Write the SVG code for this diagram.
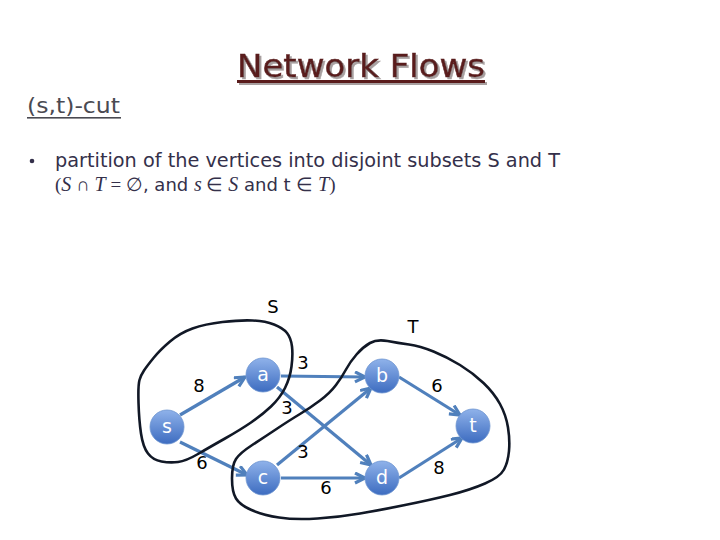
<svg xmlns="http://www.w3.org/2000/svg" width="720" height="540" viewBox="0 0 720 540">
<style>
.title{font-family:"DejaVu Sans",sans-serif;font-size:32px;fill:#5a1e1e;stroke:#5a1e1e;stroke-width:0.5}
.sub{font-family:"DejaVu Sans",sans-serif;font-size:22px;fill:#4a4a52}
.body{font-family:"DejaVu Sans",sans-serif;font-size:19px;fill:#34304a}
.body2{font-family:"DejaVu Sans",sans-serif;font-size:18px;fill:#34304a}
.math{font-family:"Liberation Serif",serif;font-style:italic;font-size:20px;fill:#34304a}
.mop{font-family:"Liberation Serif",serif;font-size:19px;fill:#34304a}
.lbl{font-family:"DejaVu Sans",sans-serif;font-size:18px;fill:#000;text-anchor:middle}
.nl{font-family:"DejaVu Sans",sans-serif;font-size:19px;fill:#fff;text-anchor:middle}
.edge{stroke:#5080bc;stroke-width:3.2;fill:none;marker-end:url(#arr)}
.node{fill:url(#ng);stroke:#6f95d0;stroke-width:0.8}
.cut{fill:none;stroke:#111826;stroke-width:2.6;stroke-linejoin:round}
</style>
<defs>
<linearGradient id="ng" x1="0" y1="0" x2="0" y2="1">
<stop offset="0" stop-color="#8fb2ea"/>
<stop offset="1" stop-color="#3d6cc0"/>
</linearGradient>
<filter id="shadow" x="-5%" y="-20%" width="115%" height="150%">
<feDropShadow dx="2" dy="2" stdDeviation="0.6" flood-color="#a8a0a0" flood-opacity="1"/>
</filter>
<marker id="arr" markerUnits="userSpaceOnUse" markerWidth="16" markerHeight="16" refX="11" refY="6" orient="auto">
<path d="M1,1 L11,6 L1,11" fill="none" stroke="#5080bc" stroke-width="3.2" stroke-linejoin="miter"/>
</marker>
</defs>
<rect width="720" height="540" fill="#fff"/>
<g id="title" filter="url(#shadow)">
<text class="title" x="237" y="77" textLength="248" lengthAdjust="spacingAndGlyphs">Network Flows</text>
<rect x="237" y="80" width="248" height="3" fill="#5a1e1e"/>
</g>
<g id="subtitle">
<text class="sub" x="27" y="113" textLength="93" lengthAdjust="spacingAndGlyphs">(s,t)-cut</text>
<rect x="27" y="117" width="94" height="1.6" fill="#4a4a52"/>
</g>
<g id="bullet">
<circle cx="32" cy="161" r="2.3" fill="#34304a"/>
<text class="body" x="55" y="167" textLength="505" lengthAdjust="spacingAndGlyphs">partition of the vertices into disjoint subsets S and T</text>
<text x="55" y="191"><tspan class="mop">(</tspan><tspan class="math">S</tspan><tspan class="mop"> ∩ </tspan><tspan class="math">T</tspan><tspan class="mop"> = ∅</tspan><tspan class="body2">, and </tspan><tspan class="math">s</tspan><tspan class="mop"> ∈ </tspan><tspan class="math">S</tspan><tspan class="body2"> and t </tspan><tspan class="mop">∈ </tspan><tspan class="math">T</tspan><tspan class="mop">)</tspan></text>
</g>
<g id="connectors">
<line class="edge" x1="180" y1="415" x2="245" y2="377"/>
<line class="edge" x1="180" y1="442" x2="247" y2="475"/>
<line class="edge" x1="281" y1="376" x2="365" y2="377"/>
<line class="edge" x1="277" y1="387" x2="371" y2="465"/>
<line class="edge" x1="277" y1="465" x2="371" y2="388"/>
<line class="edge" x1="281" y1="478" x2="365" y2="478"/>
<line class="edge" x1="399" y1="377" x2="460" y2="415"/>
<line class="edge" x1="399" y1="478" x2="462" y2="438"/>
</g>
<g id="edge-labels">
<text class="lbl" x="199" y="392">8</text>
<text class="lbl" x="303" y="369">3</text>
<text class="lbl" x="287" y="414">3</text>
<text class="lbl" x="202" y="469">6</text>
<text class="lbl" x="303" y="458">3</text>
<text class="lbl" x="326" y="494">6</text>
<text class="lbl" x="437" y="392">6</text>
<text class="lbl" x="439" y="474">8</text>
</g>
<g id="node-s"><circle class="node" cx="167" cy="427" r="17"/><text class="nl" x="167" y="433">s</text></g>
<g id="node-a"><circle class="node" cx="263" cy="375" r="17"/><text class="nl" x="263" y="381">a</text></g>
<g id="node-b"><circle class="node" cx="382" cy="376" r="17"/><text class="nl" x="382" y="382">b</text></g>
<g id="node-c"><circle class="node" cx="263" cy="478" r="17"/><text class="nl" x="263" y="484">c</text></g>
<g id="node-d"><circle class="node" cx="382" cy="478" r="17"/><text class="nl" x="382" y="484">d</text></g>
<g id="node-t"><circle class="node" cx="473" cy="426" r="17"/><text class="nl" x="473" y="432">t</text></g>
<g id="cut-S">
<path class="cut" d="M139.5,380 Q138,385 138.5,402.5 Q139,420 141,433.5 Q143,447 148,453.5 Q153,460 161.5,461.5 Q170,463 178,462 Q186,461 198,454 Q210,447 225,438.5 Q240,430 251,422.5 Q262,415 271,406.5 Q280,398 285,388 Q290,378 291.5,366.5 Q293,355 292,346.5 Q291,338 287,333 Q283,328 274,324.5 Q265,321 252.5,320.5 Q240,320 222.5,322 Q205,324 192.5,328.5 Q180,333 170,341.5 Q160,350 153.5,358 Q147,366 144,370.5 Q141,375 139.5,380 Z"/>
<text class="lbl" x="273" y="313">S</text>
</g>
<g id="cut-T">
<path class="cut" d="M370,343 Q377,339 387.5,341 Q398,343 409,344.5 Q420,346 433.5,351.5 Q447,357 460,365 Q473,373 483.5,383 Q494,393 500,404 Q506,415 508,427.5 Q510,440 509,451 Q508,462 504,469.5 Q500,477 485,483.5 Q470,490 450,495 Q430,500 405,505 Q380,510 360,513.5 Q340,517 317.5,518.5 Q295,520 279,517.5 Q263,515 251.5,510 Q240,505 236,498.5 Q232,492 232,478.5 Q232,465 236,459 Q240,453 251.5,445.5 Q263,438 276.5,429 Q290,420 300,414 Q310,408 320,400.5 Q330,393 336,385 Q342,377 346,369.5 Q350,362 356.5,354.5 Q363,347 370,343 Z"/>
<text class="lbl" x="413" y="333">T</text>
</g>
</svg>
